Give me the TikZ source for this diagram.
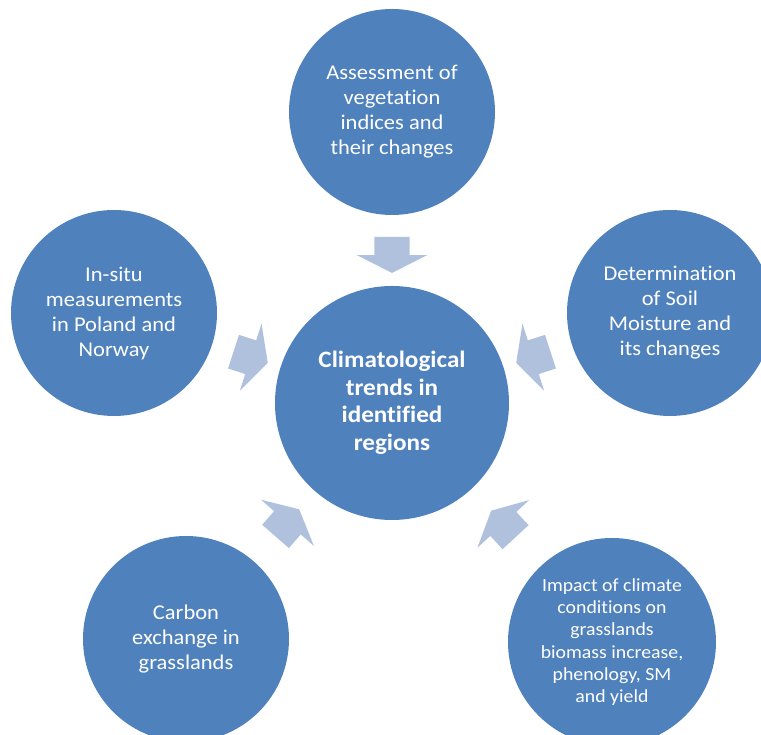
\documentclass[tikz,border=0pt]{standalone}
\usepackage{fontspec}
\setmainfont{Carlito}[Ligatures=NoCommon, FakeStretch=1.07]
\usetikzlibrary{shapes.arrows}
\definecolor{bubbleblue}{RGB}{79,129,189}
\definecolor{arrowblue}{RGB}{176,193,222}
\tikzset{
  bubble/.style={circle, fill=bubbleblue, text=white, align=center, inner sep=0pt,
    minimum size=206pt, font=\fontsize{21}{25}\selectfont},
  hub/.style={bubble, minimum size=234pt, font=\fontsize{23.5}{27.5}\selectfont\bfseries},
  blockarrow/.style={single arrow, fill=arrowblue, draw=none, inner sep=0pt,
    minimum height=36pt, single arrow head extend=17.5pt,
    single arrow tip angle=126, sloped, allow upside down, pos=0.5}
}
\newcommand{\shaft}{\rule{0pt}{35pt}}

\begin{document}
\begin{tikzpicture}[x=1pt, y=1pt]
		%%%%% START %%%%%
		
		\clip (0,0) rectangle (761,735);
		
		\node[hub] (ctr) at (392,332) {Climatological\\trends in\\identified\\regions};
		
		\node[bubble] (veg) at (392,623) {Assessment of\\vegetation\\indices and\\their changes};
		\node[bubble] (insitu) at (114,422) {In-situ\\measurements\\in Poland and\\Norway};
		\node[bubble] (soil) at (670,422) {Determination\\of Soil\\Moisture and\\its changes};
		\node[bubble] (carbon) at (186,96) {Carbon\\exchange in\\grasslands};
		\node[bubble, minimum size=208pt, font=\fontsize{18.5}{22.3}\selectfont] (impact) at (612,93)
			{Impact of climate\\conditions on\\grasslands\\biomass increase,\\phenology, SM\\and yield};
		
		\path (veg) -- (ctr) node[blockarrow] {\shaft};
		\path (insitu) -- (ctr) node[blockarrow] {\shaft};
		\path (soil) -- (ctr) node[blockarrow] {\shaft};
		\path (carbon) -- (ctr) node[blockarrow] {\shaft};
		\path (impact) -- (ctr) node[blockarrow] {\shaft};
		
		%%%%% END %%%%%
	\end{tikzpicture}
\end{document}
